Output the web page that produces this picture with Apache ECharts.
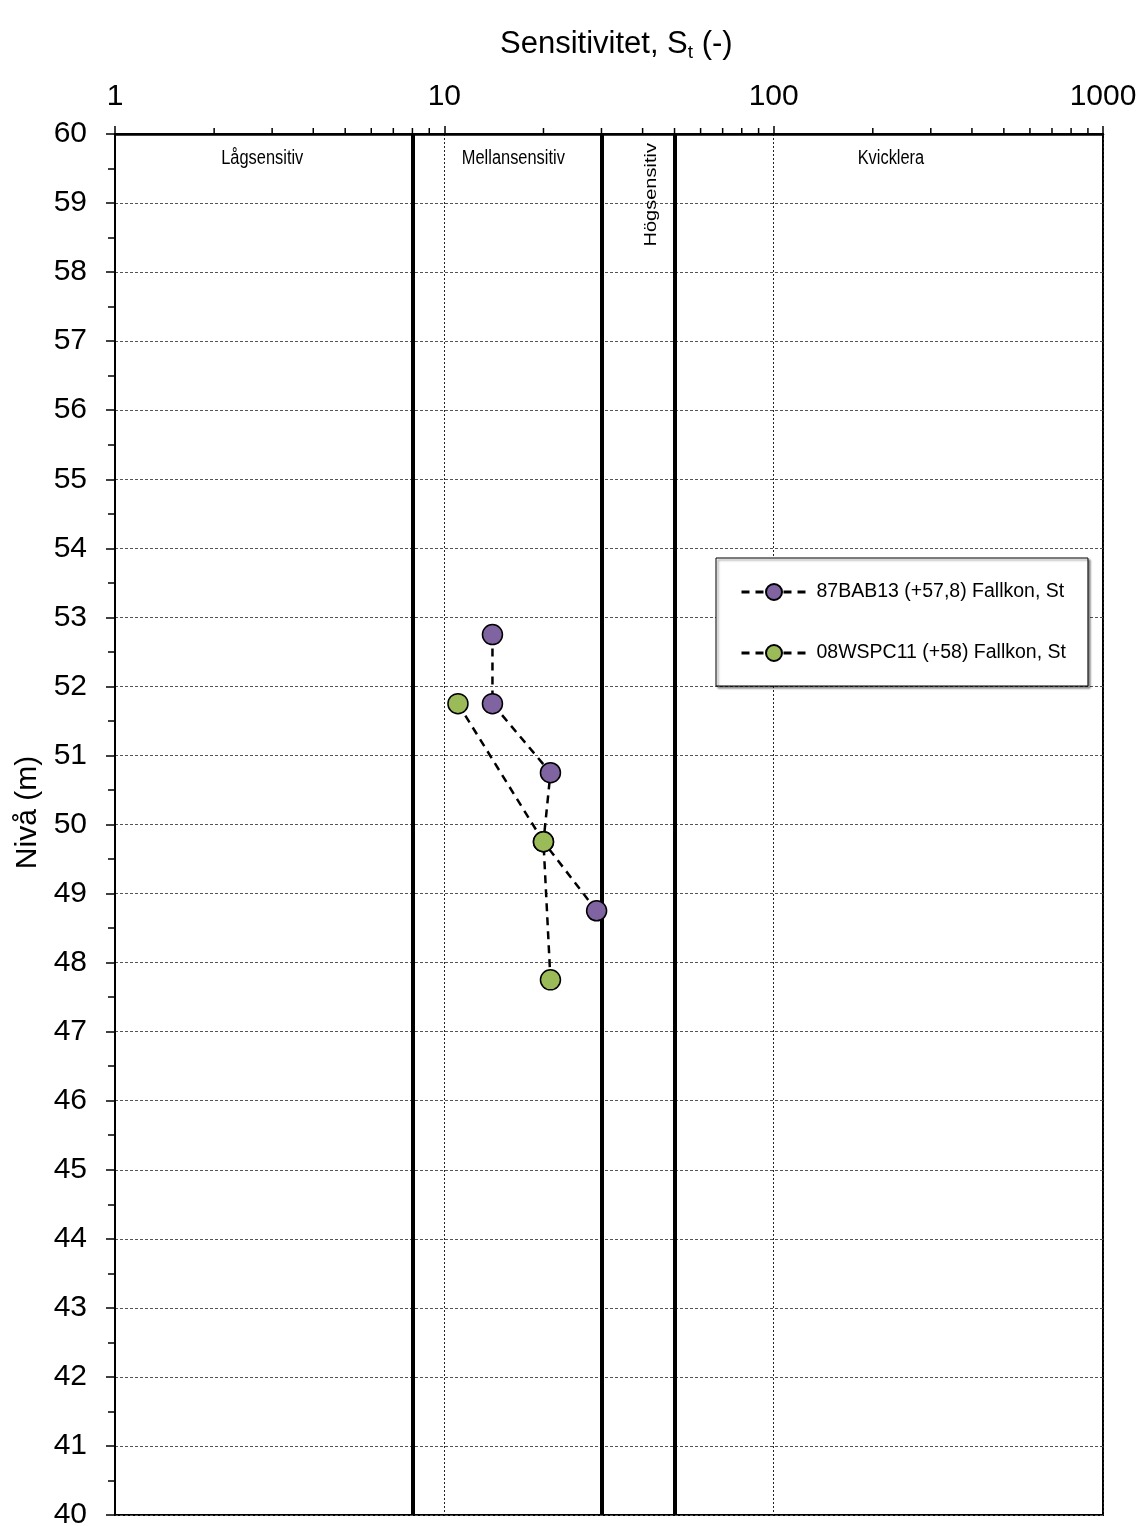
<!DOCTYPE html>
<html>
<head>
<meta charset="utf-8">
<script src="https://cdn.jsdelivr.net/npm/echarts@6/dist/echarts.min.js"></script>
<style>
  html, body { margin: 0; padding: 0; background: #fff; }
  #chart { width: 1142px; height: 1526px; }
</style>
</head>
<body>
<div id="chart"></div>
<script>
// Sensitivity profiles (fall cone) versus level
const levels87BAB13 = [52.75, 51.75, 50.75, 49.75, 48.75];
const st87BAB13 = [14, 14, 21, 20, 29];
const levels08WSPC11 = [51.75, 49.75, 47.75];
const st08WSPC11 = [11, 20, 21];

const seriesNames = ['87BAB13 (+57,8) Fallkon, St', '08WSPC11 (+58) Fallkon, St'];

// Class boundaries of sensitivity
const classBounds = [8, 30, 50];
// Class names and where they are written (St, level)
const classNames = ['Lågsensitiv', 'Mellansensitiv', 'Högsensitiv', 'Kvicklera'];
const classLabelSt = [2.8, 16.2, 42.7, 227];
const classLabelLevel = [59.65, 59.65, 59.12, 59.65];
const classLabelRotate = [0, 0, 90, 0];

// Minor tick values of the logarithmic St axis
const minorTicks = [2, 3, 4, 5, 6, 7, 8, 9, 20, 30, 40, 50, 60, 70, 80, 90, 200, 300, 400, 500, 600, 700, 800, 900];

const levelMin = 40, levelMax = 60;

const FONT = '"Liberation Sans", Arial, sans-serif';

const chart = echarts.init(document.getElementById('chart'), null, { renderer: 'canvas' });

function pairs(xs, ys) { return xs.map((x, i) => [x, ys[i]]); }

const dataSeries = (name, xs, ys, color) => ({
  name: name,
  type: 'line',
  data: pairs(xs, ys),
  symbol: 'circle',
  symbolSize: 20,
  itemStyle: { color: color, borderColor: '#000', borderWidth: 1.5 },
  lineStyle: { color: '#000', width: 2.5, type: [8, 6] },
  z: 5,
  animation: false
});

const option = {
  backgroundColor: '#fff',
  animation: false,
  title: {
    text: '{a|Sensitivitet, S}{b|t}{a| (-)}',
    left: 495,
    top: 21,
    textStyle: {
      fontWeight: 'normal',
      rich: {
        a: { fontFamily: FONT, fontSize: 31, fontWeight: 'normal', color: '#000', lineHeight: 36 },
        b: { fontFamily: FONT, fontSize: 19, fontWeight: 'normal', color: '#000', lineHeight: 36, verticalAlign: 'bottom', padding: [14, 0, 0, 0] }
      }
    }
  },
  grid: {
    left: 115, right: 39, top: 134, bottom: 11,
    outerBoundsMode: 'none',
    containLabel: false,
    show: true, borderColor: '#000', borderWidth: 2, backgroundColor: 'transparent'
  },
  legend: {
    data: seriesNames,
    orient: 'vertical',
    left: 716,
    top: 558,
    padding: [24, 22, 23, 24],
    itemGap: 41,
    itemWidth: 65,
    itemHeight: 20,
    backgroundColor: '#fff',
    borderColor: '#000',
    borderWidth: 1,
    shadowColor: 'rgba(0,0,0,0.45)',
    shadowBlur: 2,
    shadowOffsetX: 2,
    shadowOffsetY: 2,
    lineStyle: { width: 3 },
    textStyle: { fontFamily: FONT, fontSize: 19.5, color: '#000', padding: [0, 0, 0, 5] }
  },
  xAxis: {
    type: 'log',
    logBase: 10,
    min: 1,
    max: 1000,
    position: 'top',
    axisLine: { show: true, lineStyle: { color: '#000', width: 2.5 } },
    axisTick: { show: true, length: 8, lineStyle: { color: '#000', width: 1.5 } },
    axisLabel: { fontFamily: FONT, fontSize: 30, color: '#000', margin: 22, formatter: v => String(Math.round(v)) },
    splitLine: { show: true, lineStyle: { color: '#222', width: 1, type: [2, 2] } }
  },
  yAxis: {
    type: 'value',
    min: levelMin,
    max: levelMax,
    interval: 1,
    name: 'Nivå (m)',
    nameLocation: 'middle',
    nameGap: 71,
    nameTextStyle: { fontFamily: FONT, fontSize: 30, color: '#000', padding: [0, 0, 0, 24] },
    axisLine: { show: true, lineStyle: { color: '#000', width: 2 } },
    axisTick: { show: true, length: 9, lineStyle: { color: '#000', width: 1.5 } },
    minorTick: { show: true, splitNumber: 2, length: 7, lineStyle: { color: '#000', width: 1.5 } },
    axisLabel: { fontFamily: FONT, fontSize: 30, color: '#000', margin: 28 },
    splitLine: { show: true, lineStyle: { color: '#555', width: 1, type: [3, 2] } }
  },
  series: [
    dataSeries(seriesNames[0], st87BAB13, levels87BAB13, '#8064a2'),
    dataSeries(seriesNames[1], st08WSPC11, levels08WSPC11, '#9bbb59'),
    {
      // class boundaries
      type: 'line',
      data: [],
      silent: true,
      markLine: {
        silent: true,
        symbol: ['none', 'none'],
        label: { show: false },
        lineStyle: { color: '#000', width: 4, type: 'solid' },
        data: classBounds.map(v => ({ xAxis: v }))
      },
      z: 3
    },
    {
      // class names, in a condensed face
      type: 'custom',
      silent: true,
      clip: false,
      data: classNames.map((n, i) => [classLabelSt[i], classLabelLevel[i], classLabelRotate[i]]),
      renderItem: (params, api) => {
        const p = api.coord([api.value(0), api.value(1)]);
        const rot = api.value(2);
        return {
          type: 'text',
          x: p[0],
          y: p[1],
          rotation: rot * Math.PI / 180,
          scaleX: rot ? 1 : 0.82,
          scaleY: rot ? 0.82 : 1,
          style: {
            text: classNames[params.dataIndex],
            fontFamily: FONT,
            fontSize: 20,
            fill: '#000',
            align: 'center',
            verticalAlign: 'middle'
          }
        };
      },
      z: 4
    },
    {
      // minor ticks on the St axis
      type: 'custom',
      silent: true,
      clip: false,
      data: minorTicks.map(v => [v, levelMax]),
      renderItem: (params, api) => {
        const p = api.coord([api.value(0), api.value(1)]);
        return {
          type: 'line',
          shape: { x1: p[0], y1: p[1], x2: p[0], y2: p[1] - 6 },
          style: { stroke: '#000', lineWidth: 1.5 }
        };
      },
      z: 2
    }
  ]
};

chart.setOption(option);
</script>
</body>
</html>
